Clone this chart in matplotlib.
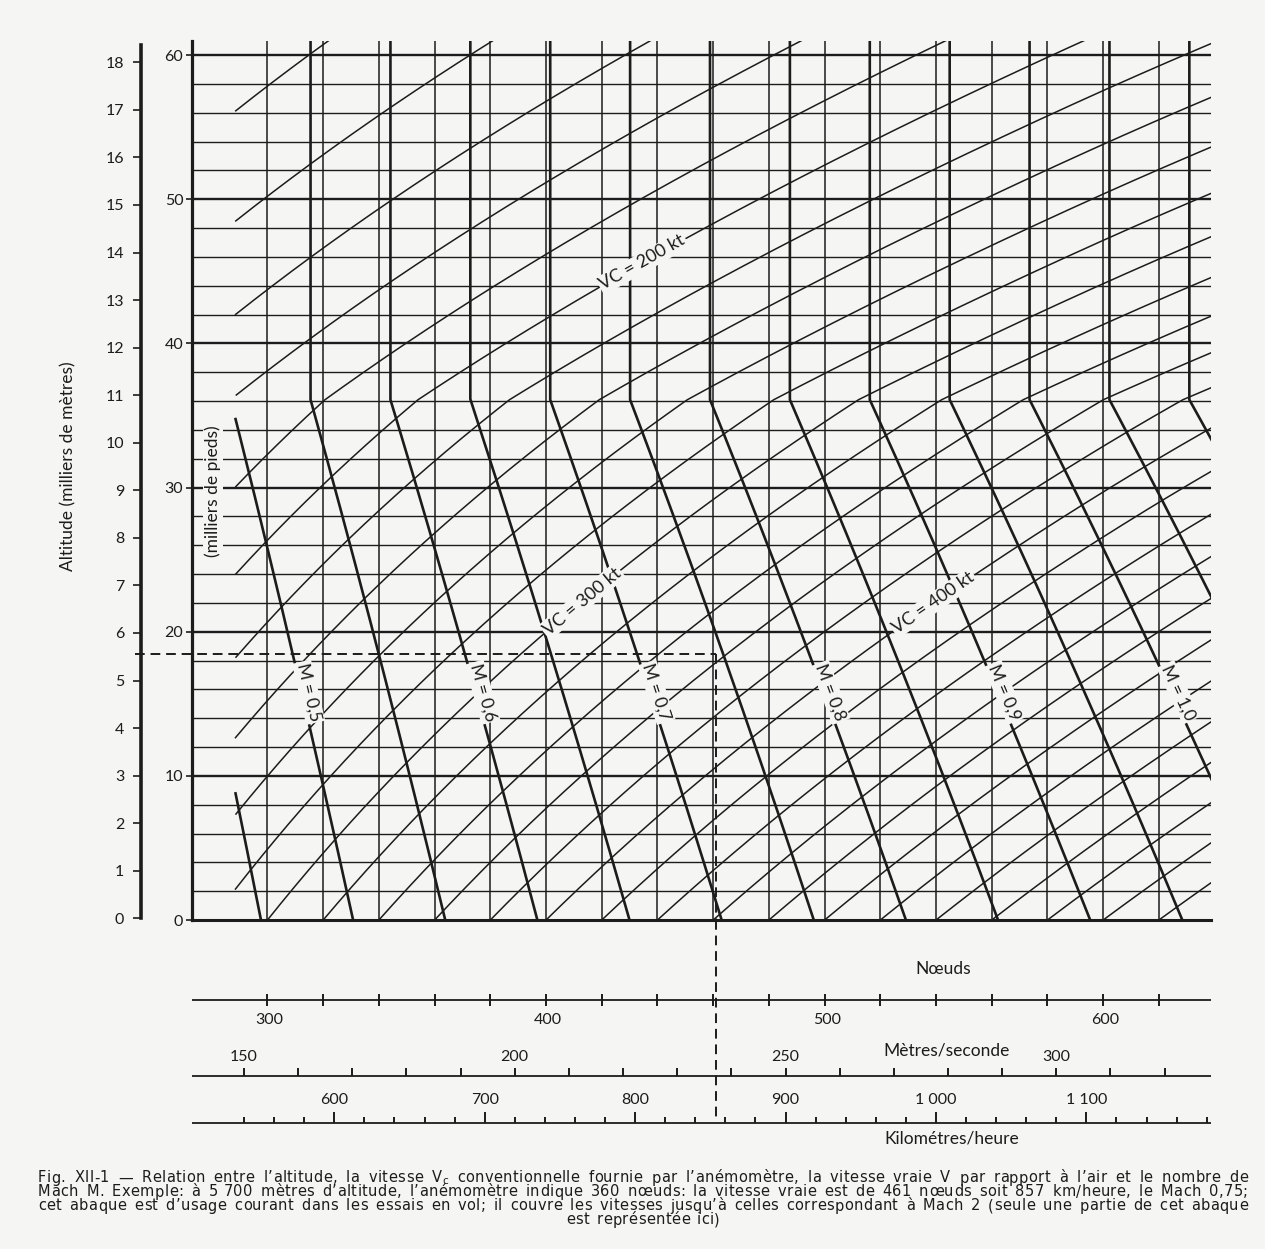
import numpy as np
import matplotlib
matplotlib.use("Agg")
import matplotlib.pyplot as plt

W, H = 1265, 1249
INK = "#1c1c1c"
PAPER = "#f5f5f4"
plt.rcParams["font.family"] = ["Lato", "DejaVu Sans"]

# ---- chart values ----
cas_lines = np.arange(100, 621, 20)                 # Vc lines (kt)
mach_lines = np.round(np.arange(0.45, 1.1001, 0.05), 2)
mach_labelled = [0.5, 0.6, 0.7, 0.8, 0.9, 1.0]
mach_label_text = ["M = 0,5", "M = 0,6", "M = 0,7", "M = 0,8", "M = 0,9", "M = 1,0"]
mach_label_alt = 15.8                                # thousands of ft
cas_labelled = [200, 300, 400]
cas_label_text = ["VC = 200 kt", "VC = 300 kt", "VC = 400 kt"]
cas_label_alt = [45.6, 22.1, 22.0]
grid_kt = np.arange(300, 621, 20)
grid_ft = np.arange(2, 61, 2)
ft_ticks = np.arange(0, 61, 10)
m_ticks = np.arange(0, 19, 1)
kt_ticks = np.arange(300, 621, 20)
kt_labels = [300, 400, 500, 600]
ms_ticks = np.arange(150, 321, 10)
ms_labels = [150, 200, 250, 300]
kmh_ticks = np.arange(540, 1181, 20)
kmh_labels = [600, 700, 800, 900, 1000, 1100]
kmh_label_text = ["600", "700", "800", "900", "1 000", "1 100"]
ex_alt_kft = 18.45          # example: 5 700 m
ex_tas = 461                # example true airspeed (kt)

# "V_c" marks the V with subscript c
caption = [
    "Fig. XII-1 — Relation entre l’altitude, la vitesse V_c conventionnelle fournie par l’anémomètre, la vitesse vraie V par rapport à l’air et le nombre de",
    "Mach M. Exemple: à 5\u00a0700 mètres d’altitude, l’anémomètre indique 360 nœuds: la vitesse vraie est de 461 nœuds soit 857 km/heure, le Mach 0,75;",
    "cet abaque est d’usage courant dans les essais en vol; il couvre les vitesses jusqu’à celles correspondant à Mach 2 (seule une partie de cet abaque",
    "est représentée ici)",
]

KT_MIN, KT_MAX = 272.8, 638.7
ALT_TOP = 61.0
CURVE_START = 288.5


def atmosphere(h_kft):
    """ISA pressure ratio and speed of sound (kt)."""
    h = np.asarray(h_kft) * 1000 / 3.28084
    T = np.where(h < 11000, 288.15 - 0.0065 * h, 216.65)
    p = np.where(h < 11000, (T / 288.15) ** 5.25588,
                 0.223361 * np.exp(-(h - 11000) / 6341.62))
    a = np.sqrt(1.4 * 287.053 * T) / 0.514444
    return p, a


M_tab = np.linspace(0.01, 2.0, 6000)
sub = (1 + 0.2 * M_tab ** 2) ** 3.5 - 1
sup = 166.921 * M_tab ** 7 / np.maximum(7 * M_tab ** 2 - 1, 1e-6) ** 2.5 - 1
qcp_tab = np.where(M_tab < 1, sub, sup)


def tas_from_cas(vc, h_kft):
    p, a = atmosphere(h_kft)
    qc = (1 + 0.2 * (vc / 661.47) ** 2) ** 3.5 - 1
    M = np.interp(qc / p, qcp_tab, M_tab)
    return M * a


def fx(px):
    return px / W


def fy(py):
    return 1 - py / H


def px2kt(px):
    return KT_MIN + (px - 191.7) * (KT_MAX - KT_MIN) / (1211 - 191.7)


fig = plt.figure(figsize=(W / 100, H / 100), dpi=100, facecolor=PAPER)

ax = fig.add_axes([fx(191.7), fy(920), (1211 - 191.7) / W, (920 - 40.6) / H])
ax.set_facecolor(PAPER)
ax.set_xlim(KT_MIN, KT_MAX)
ax.set_ylim(0, ALT_TOP)

ax.vlines(grid_kt, 0, ALT_TOP, color=INK, lw=1.1)
ax.hlines(grid_ft, KT_MIN, KT_MAX, color=INK,
          lw=[1.7 if v % 10 == 0 else 1.0 for v in grid_ft])

alt = np.union1d(np.linspace(0, ALT_TOP + 1, 1300), [36.089])
for vc in cas_lines:
    x = tas_from_cas(vc, alt)
    x = np.where(x >= CURVE_START, x, np.nan)
    ax.plot(x, alt, color=INK, lw=1.1)

p_alt, a_alt = atmosphere(alt)
for m in mach_lines:
    x = m * a_alt
    x = np.where(x >= CURVE_START, x, np.nan)
    ax.plot(x, alt, color=INK, lw=1.9, solid_joinstyle="miter")

for sp in ["top", "right"]:
    ax.spines[sp].set_visible(False)
ax.spines["left"].set_linewidth(2.3)
ax.spines["bottom"].set_linewidth(2.2)
ax.spines["left"].set_color(INK)
ax.spines["bottom"].set_color(INK)
ax.set_xticks([])
ax.set_yticks(ft_ticks)
ax.tick_params(axis="y", direction="out", length=4, width=1.2, pad=2,
               labelsize=11.5, colors=INK)


def screen_angle(xs, ys):
    pts = ax.transData.transform(np.column_stack([xs, ys]))
    d = pts[1] - pts[0]
    return np.degrees(np.arctan2(d[1], d[0]))


box = dict(facecolor=PAPER, edgecolor="none", pad=1.2)

# Mach labels
for m, txt in zip(mach_labelled, mach_label_text):
    _, a_lab = atmosphere(np.array([mach_label_alt + 0.5, mach_label_alt, mach_label_alt - 0.5]))
    xs = m * a_lab
    ang = screen_angle([xs[0], xs[2]], [mach_label_alt + 0.5, mach_label_alt - 0.5])
    ax.text(xs[1] + 2.5, mach_label_alt, txt, rotation=ang, rotation_mode="anchor",
            ha="center", va="center", fontsize=12.5, color=INK, bbox=box)

# Vc labels
for vc, txt, h in zip(cas_labelled, cas_label_text, cas_label_alt):
    hs = np.array([h - 0.5, h, h + 0.5])
    xs = tas_from_cas(vc, hs)
    ang = screen_angle([xs[0], xs[2]], [hs[0], hs[2]])
    ax.text(xs[1], h, txt, rotation=ang, rotation_mode="anchor",
            ha="center", va="center", fontsize=13, color=INK, bbox=box)

# example dashed lines
ax.plot([px2kt(135), ex_tas], [ex_alt_kft, ex_alt_kft], color=INK, lw=1.4,
        dashes=(5, 3), clip_on=False)
ax.plot([ex_tas, ex_tas], [ex_alt_kft, 0], color=INK, lw=1.4, dashes=(5, 3))

fig.text(fx(213), fy(491), "(milliers de pieds)", rotation=90, ha="center",
         va="center", fontsize=12.5, color=INK,
         bbox=dict(facecolor=PAPER, edgecolor="none", pad=1))

# metres axis
mx = fig.add_axes([fx(141), fy(918.3), 0.0005, (918.3 - 45) / H])
mx.patch.set_visible(False)
mx.set_ylim(0, 18 * (918.3 - 45) / (918.3 - 62.3))
for sp in ["top", "right", "bottom"]:
    mx.spines[sp].set_visible(False)
mx.spines["left"].set_linewidth(2.6)
mx.spines["left"].set_color(INK)
mx.set_xticks([])
mx.set_yticks(m_ticks)
mx.tick_params(axis="y", direction="out", length=6, width=1.2, pad=6,
               labelsize=11.5, colors=INK)
fig.text(fx(68), fy(466), "Altitude (milliers de mètres)", rotation=90,
         ha="center", va="center", fontsize=12.5, color=INK)

# bottom speed scales
sax = fig.add_axes([fx(191.7), fy(1150), (1211 - 191.7) / W, (1150 - 920) / H])
sax.set_xlim(KT_MIN, KT_MAX)
sax.set_ylim(1150, 920)
sax.axis("off")

num_fs, title_fs = 11.5, 12.5
sax.hlines(1000, KT_MIN, KT_MAX, color=INK, lw=1.3)
sax.vlines(kt_ticks, 994, 1006, color=INK, lw=1.4)
for v in kt_labels:
    sax.text(v + 0.8, 1020, str(v), ha="center", va="center", fontsize=num_fs, color=INK)
sax.text(px2kt(943), 969, "Nœuds", ha="center", va="center", fontsize=title_fs, color=INK)

ms_kt = ms_ticks / 0.514444
sax.hlines(1076, KT_MIN, KT_MAX, color=INK, lw=1.3)
sax.vlines(ms_kt, 1068, 1076, color=INK, lw=1.4)
for v in ms_labels:
    sax.text(v / 0.514444, 1057, str(v), ha="center", va="center", fontsize=num_fs, color=INK)
sax.text(px2kt(947), 1050, "Mètres/seconde", ha="center", va="center", fontsize=title_fs, color=INK)

kmh_kt = kmh_ticks / 1.852
major = np.isin(kmh_ticks, kmh_labels)
sax.hlines(1123, KT_MIN, KT_MAX, color=INK, lw=1.3)
sax.vlines(kmh_kt[~major], 1117, 1123, color=INK, lw=1.4)
sax.vlines(kmh_kt[major], 1112, 1123, color=INK, lw=1.4)
for v, t in zip(kmh_labels, kmh_label_text):
    sax.text(v / 1.852, 1100, t, ha="center", va="center", fontsize=num_fs, color=INK)
sax.text(px2kt(952), 1138, "Kilométres/heure", ha="center", va="center", fontsize=title_fs, color=INK)

sax.plot([ex_tas, ex_tas], [920, 1122], color=INK, lw=1.4, dashes=(5, 3))

# justified, slightly letter-spaced caption
renderer = fig.canvas.get_renderer()
x0, x1 = 38, 1248
line_y = [1178, 1192, 1206, 1220]
TRACK = 0.4
CAP_FS = 10.5


def units(word):
    # (text, fontsize, vertical offset in px)
    if word == "V_c":
        return [("V", CAP_FS, 0), ("c", 7.5, 3)]
    return [(ch, CAP_FS, 0) for ch in word]


def layout_word(word, yy):
    arts, widths = [], []
    for ch, fs, dy in units(word):
        t = fig.text(0, fy(yy + dy), ch, ha="left", va="center", fontsize=fs,
                     color=INK, family=["DejaVu Sans"])
        arts.append(t)
        widths.append(t.get_window_extent(renderer).width)
    total = sum(widths) + TRACK * (len(widths) - 1)
    return arts, widths, total


def place_word(arts, widths, start):
    cur = start
    for a, wd in zip(arts, widths):
        a.set_x(fx(cur))
        cur += wd + TRACK


for i, (line, yy) in enumerate(zip(caption, line_y)):
    words = [layout_word(w, yy) for w in line.split(" ")]
    totals = [w[2] for w in words]
    if i == len(caption) - 1:
        gap = 7.0
        cur = 643 - (sum(totals) + gap * (len(words) - 1)) / 2
    else:
        gap = (x1 - x0 - sum(totals)) / (len(words) - 1)
        cur = x0
    for arts, widths, total in words:
        place_word(arts, widths, cur)
        cur += total + gap

fig.savefig("out.png", dpi=100, facecolor=PAPER)
